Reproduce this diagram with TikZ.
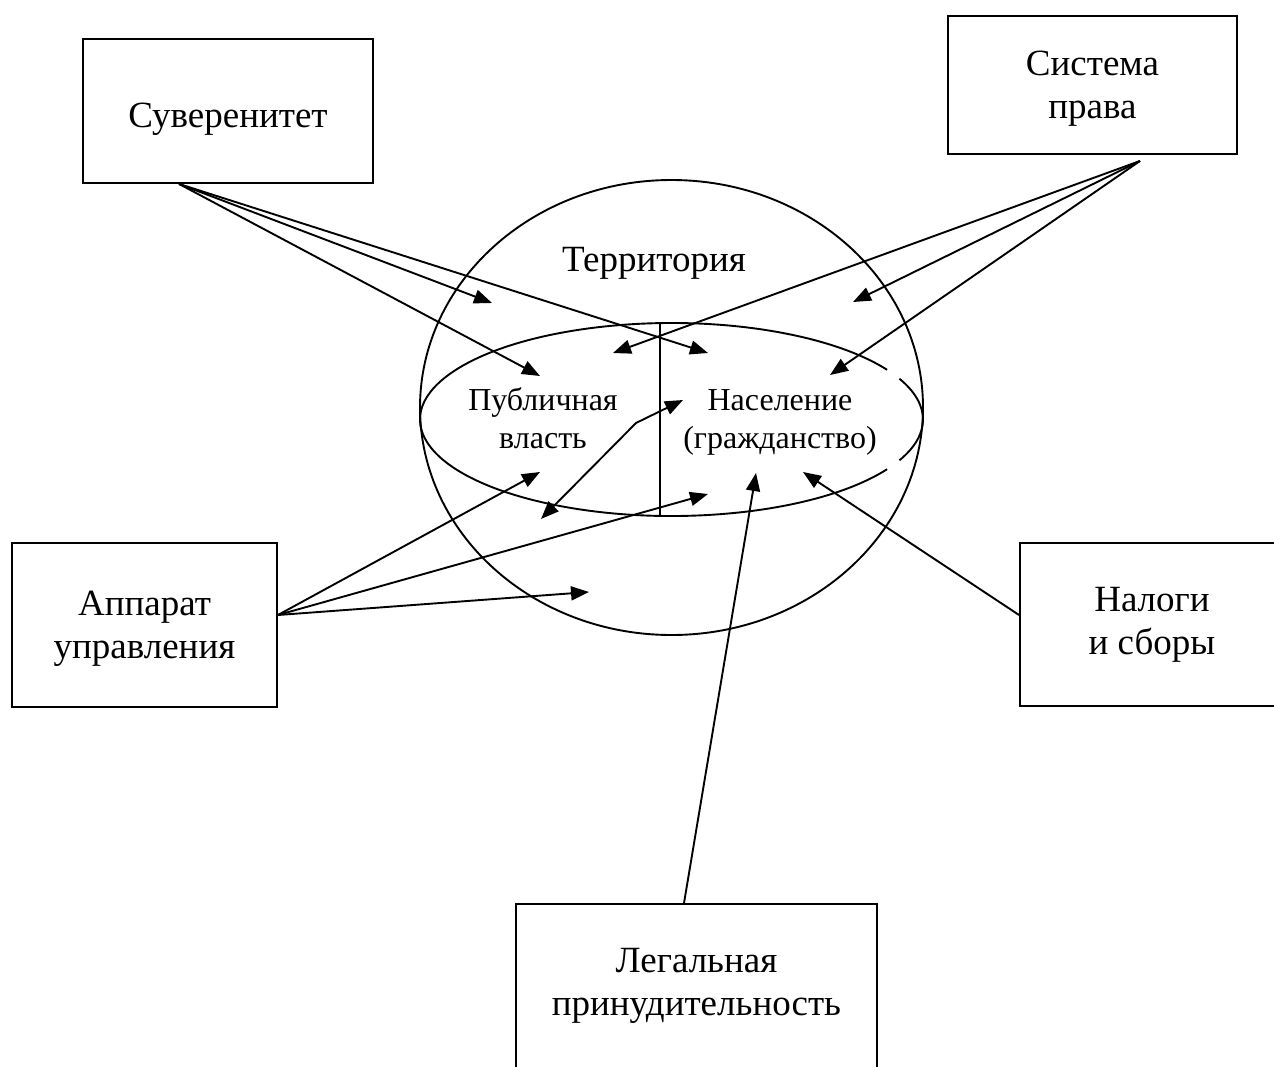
\documentclass[tikz,border=0pt]{standalone}
\usepackage{fontspec}
\setmainfont{Liberation Serif}
\usetikzlibrary{arrows.meta,shapes.geometric,calc}
\begin{document}
\begin{tikzpicture}[x=1pt,y=-1pt,
  line width=1.9pt,
  box/.style={draw, rectangle, inner sep=0pt},
  big/.style={font=\fontsize{37}{43}\selectfont, align=center, inner sep=0pt},
  small/.style={font=\fontsize{32}{38}\selectfont, align=center, inner sep=0pt},
  arr/.style={-{Triangle[length=18pt,width=14pt]}},
  dbl/.style={{Triangle[length=18pt,width=14pt]}-{Triangle[length=18pt,width=14pt]}}]
\useasboundingbox (0,0) rectangle (1274,1066);
\clip (0,0) rectangle (1274,1066);

% boxes
\node[box, minimum width=290pt, minimum height=144pt] (suv) at (228,111) {};
\node[big] (suvt) at ($(suv.center)+(0,8)$) {Суверенитет};
\node[box, minimum width=289pt, minimum height=138pt] (sys) at (1092.5,85) {};
\node[big] (syst) at ($(sys.center)+(0,4)$) {Система\\права};
\node[box, minimum width=265pt, minimum height=164pt] (app) at (144.5,625) {};
\node[big] (appt) at ($(app.center)+(0,4)$) {Аппарат\\управления};
\node[box, minimum width=264pt, minimum height=163pt] (tax) at (1152,624.5) {};
\node[big] (taxt) at ($(tax.center)+(0,0)$) {Налоги\\и сборы};
\node[box, minimum width=361pt, minimum height=164pt] (leg) at (696.5,986) {};
\node[big] (legt) at ($(leg.center)+(0,0)$) {Легальная\\принудительность};

% territory
\node[draw, ellipse, minimum width=503pt, minimum height=455pt, inner sep=0pt] (terr) at (671.5,407.5) {};
\node[big] (terrt) at (654,263) {Территория};

% inner ellipse with two small gaps on the right
\coordinate (ic) at (671.5,419.5);
\draw[shift={(ic)}] (-25:251.5 and 96.5) arc[start angle=-25, end angle=25, x radius=251.5, y radius=96.5];
\draw[shift={(ic)}] (31:251.5 and 96.5) arc[start angle=31, end angle=329, x radius=251.5, y radius=96.5];
\coordinate (vt) at (660,323.1);
\coordinate (vb) at (660,515.9);
\draw (vt) -- (vb);

\node[small] (pub) at (543,418) {Публичная\\власть};
\node[small] (nas) at (780,422) {Население\\(гражданство)};

% connector origins
\coordinate (suvo) at ($(suv.south west)+(97,0)$);
\coordinate (syso) at ($(sys.south)+(47.5,6)$);
\coordinate (appo) at ($(app.east)+(0,-10)$);
\coordinate (taxo) at ($(tax.west)+(0,-9.5)$);
\coordinate (lego) at ($(leg.north)+(-12.5,0)$);

% targets
\coordinate (sovA) at (492,303);
\coordinate (sovB) at (540,376);
\coordinate (sovC) at (708,353);
\coordinate (sysA) at (613,353);
\coordinate (sysB) at (853,302);
\coordinate (sysC) at (830,375);
\coordinate (appA) at (540,472);
\coordinate (appB) at (708,494);
\coordinate (appC) at (589,592);
\coordinate (legA) at (756,473);
\coordinate (taxA) at (803,472);
\coordinate (d1) at (541,519);
\coordinate (dm) at (636,423);
\coordinate (d2) at (683,400);

\draw[arr] (suvo) -- (sovA);
\draw[arr] (suvo) -- (sovB);
\draw[arr] (suvo) -- (sovC);
\draw[arr] (syso) -- (sysA);
\draw[arr] (syso) -- (sysB);
\draw[arr] (syso) -- (sysC);
\draw[arr] (appo) -- (appA);
\draw[arr] (appo) -- (appB);
\draw[arr] (appo) -- (appC);
\draw[arr] (lego) -- (legA);
\draw[arr] (taxo) -- (taxA);
\draw[dbl] (d1) -- (dm) -- (d2);
\end{tikzpicture}
\end{document}
